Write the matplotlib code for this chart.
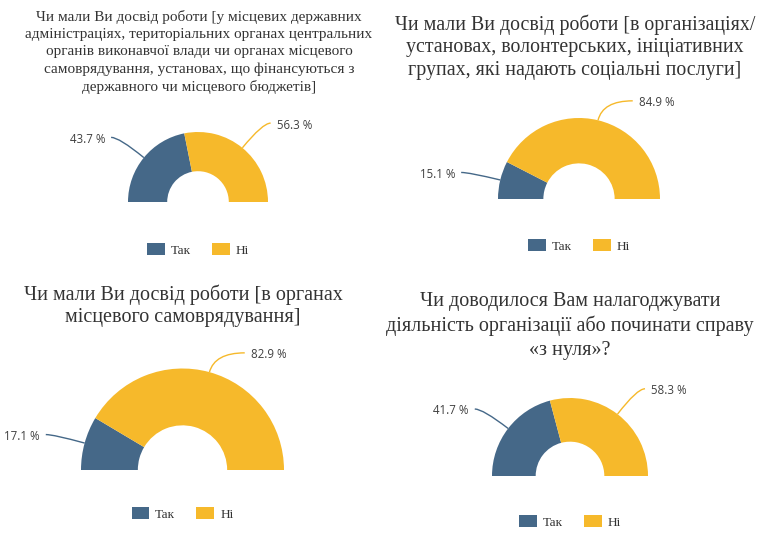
import numpy as np
import matplotlib
matplotlib.use("Agg")
import matplotlib.pyplot as plt
from matplotlib.path import Path
from matplotlib.patches import PathPatch

# data
categories = ["Так", "Ні"]
titles = [
    "Чи мали Ви досвід роботи [у місцевих державних\n"
    "адміністраціях, територіальних органах центральних\n"
    "органів виконавчої влади чи органах місцевого\n"
    "самоврядування, установах, що фінансуються з\n"
    "державного чи місцевого бюджетів]",
    "Чи мали Ви досвід роботи [в організаціях/\n"
    "установах, волонтерських, ініціативних\n"
    "групах, які надають соціальні послуги]",
    "Чи мали Ви досвід роботи [в органах\n"
    "місцевого самоврядування]",
    "Чи доводилося Вам налагоджувати\n"
    "діяльність організації або починати справу\n"
    "«з нуля»?",
]
tak_pct = [43.7, 15.1, 17.1, 41.7]
ni_pct = [56.3, 84.9, 82.9, 58.3]

colors = ["#456888", "#F6B92B"]

# layout (pixels from top-left of a 766x548 canvas)
W, H = 766, 548
centers_x = [198, 579, 182.5, 570]
centers_y = [202, 199, 470, 476]
radii = [70, 81, 101.5, 78]
legend_y = [250, 246, 514, 522]
title_x = [199, 575, 183, 570]
title_y = [52, 47, 306, 326]
title_size = [11, 14.3, 14.5, 14.5]
title_spacing = [1.42, 1.24, 1.24, 1.3]

serif = ["Liberation Serif", "DejaVu Serif"]
sans = ["Open Sans", "DejaVu Sans"]

fig = plt.figure(figsize=(W / 100, H / 100), dpi=100)
ax = fig.add_axes([0, 0, 1, 1])

for i in range(4):
    cx, cy, r = centers_x[i], H - centers_y[i], radii[i]
    vals = [tak_pct[i], ni_pct[i], tak_pct[i] + ni_pct[i]]
    wedges, _ = ax.pie(vals, colors=colors + ["white"], startangle=180,
                       counterclock=False, center=(cx, cy), radius=r,
                       wedgeprops=dict(width=r * 0.56, linewidth=0))
    wedges[2].set_visible(False)

    # data labels with connectors
    start = 180.0
    for j, v in enumerate(vals[:2]):
        sweep = v / sum(vals[:2]) * 180
        mid = np.deg2rad(start - sweep / 2)
        start -= sweep
        c, s = np.cos(mid), np.sin(mid)
        if abs(c) < 0.4:
            rad_len, hor_len = 20, 30
        else:
            rad_len, hor_len = 32, 8
        p0 = (cx + r * c, cy + r * s)
        p1 = (cx + (r + rad_len) * c, cy + (r + rad_len) * s)
        side = 1 if c >= 0 else -1
        p2 = (p1[0] + side * hor_len, p1[1])
        path = Path([p0, p1, p2], [Path.MOVETO, Path.CURVE3, Path.CURVE3])
        ax.add_patch(PathPatch(path, fill=False, edgecolor=colors[j], lw=1))
        ax.text(p2[0] + side * 6, p2[1] - 2, f"{v} %",
                ha="left" if side > 0 else "right", va="center",
                fontsize=8.3, color="#404040", family=sans)

    leg = ax.legend(wedges[:2], categories, loc="center",
                    bbox_to_anchor=(cx / W, 1 - legend_y[i] / H),
                    bbox_transform=fig.transFigure, ncol=2, frameon=False,
                    prop=dict(family=serif, size=9.5),
                    handlelength=1.35, handleheight=0.95,
                    handletextpad=0.45, columnspacing=1.6,
                    borderpad=0, labelcolor="#333333")
    ax.add_artist(leg)
    ax.legend_ = None

    ax.text(title_x[i], H - title_y[i], titles[i], ha="center", va="center",
            fontsize=title_size[i], color="#333333", family=serif,
            linespacing=title_spacing[i])

ax.set_xlim(0, W)
ax.set_ylim(0, H)
ax.set_aspect("equal")
ax.axis("off")

fig.savefig("out.png", dpi=100, facecolor="white")
